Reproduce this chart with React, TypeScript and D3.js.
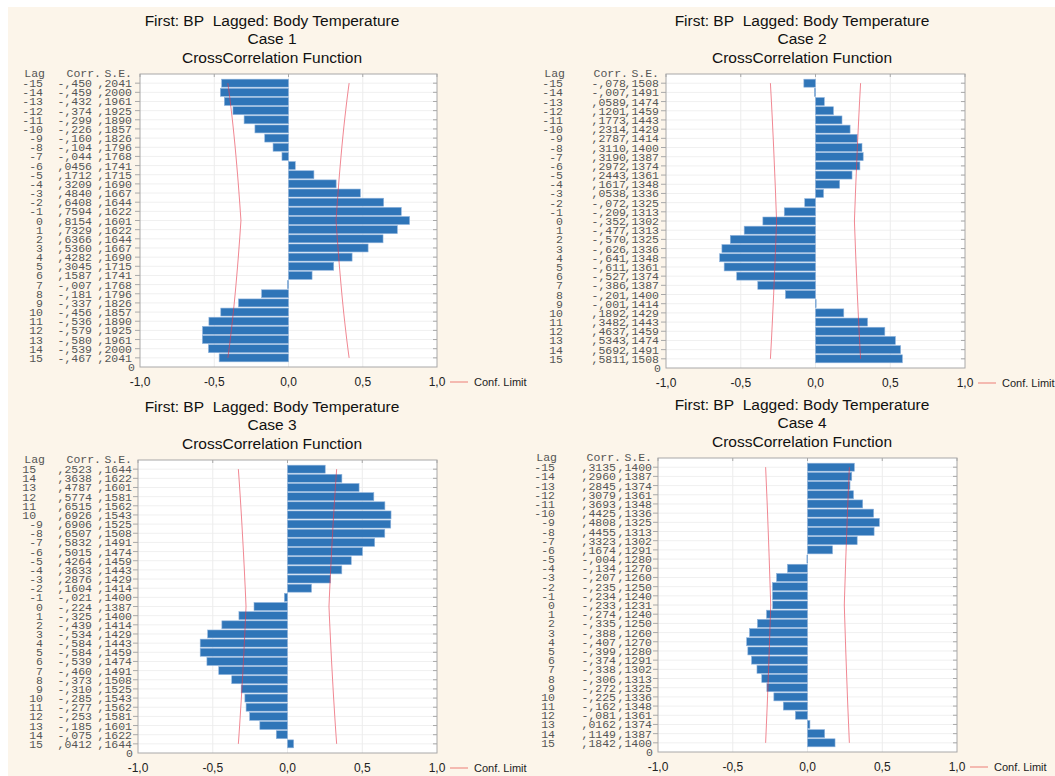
import * as d3 from "d3";

// lag labels as printed in each table
const lagLabels = ["-15","-14","-13","-12","-11","-10","-9","-8","-7","-6","-5","-4","-3","-2","-1","0","1","2","3","4","5","6","7","8","9","10","11","12","13","14","15"];
const lagLabelsCase3 = ["15\u00a0","14\u00a0","13\u00a0","12\u00a0","11\u00a0","10\u00a0","-9","-8","-7","-6","-5","-4","-3","-2","-1","0","1","2","3","4","5","6","7","8","9","10","11","12","13","14","15"];

const case1Corr = [-.450,-.459,-.432,-.374,-.299,-.226,-.160,-.104,-.044,.0456,.1712,.3209,.4840,.6408,.7594,.8154,.7329,.6366,.5360,.4282,.3045,.1587,-.007,-.181,-.337,-.456,-.536,-.579,-.580,-.539,-.467];
const case1SE = [.2041,.2000,.1961,.1925,.1890,.1857,.1826,.1796,.1768,.1741,.1715,.1690,.1667,.1644,.1622,.1601,.1622,.1644,.1667,.1690,.1715,.1741,.1768,.1796,.1826,.1857,.1890,.1925,.1961,.2000,.2041];

const case2Corr = [-.078,-.007,.0589,.1201,.1773,.2314,.2787,.3110,.3190,.2972,.2443,.1617,.0538,-.072,-.209,-.352,-.477,-.570,-.626,-.641,-.611,-.527,-.386,-.201,-.001,.1892,.3482,.4637,.5343,.5692,.5811];
const case2SE = [.1508,.1491,.1474,.1459,.1443,.1429,.1414,.1400,.1387,.1374,.1361,.1348,.1336,.1325,.1313,.1302,.1313,.1325,.1336,.1348,.1361,.1374,.1387,.1400,.1414,.1429,.1443,.1459,.1474,.1491,.1508];

const case3Corr = [.2523,.3638,.4787,.5774,.6515,.6926,.6906,.6507,.5832,.5015,.4264,.3633,.2876,.1604,-.021,-.224,-.325,-.439,-.534,-.584,-.584,-.539,-.460,-.373,-.310,-.285,-.277,-.253,-.185,-.075,.0412];
const case3SE = [.1644,.1622,.1601,.1581,.1562,.1543,.1525,.1508,.1491,.1474,.1459,.1443,.1429,.1414,.1400,.1387,.1400,.1414,.1429,.1443,.1459,.1474,.1491,.1508,.1525,.1543,.1562,.1581,.1601,.1622,.1644];

const case4Corr = [.3135,.2960,.2845,.3079,.3693,.4425,.4808,.4455,.3323,.1674,-.004,-.134,-.207,-.235,-.234,-.233,-.274,-.335,-.388,-.407,-.399,-.374,-.338,-.306,-.272,-.225,-.162,-.081,.0162,.1149,.1842];
const case4SE = [.1400,.1387,.1374,.1361,.1348,.1336,.1325,.1313,.1302,.1291,.1280,.1270,.1260,.1250,.1240,.1231,.1240,.1250,.1260,.1270,.1280,.1291,.1302,.1313,.1325,.1336,.1348,.1361,.1374,.1387,.1400];

const xTicks = [-1, -0.5, 0, 0.5, 1];
const titleLine1 = "First: BP\u00a0\u00a0Lagged: Body Temperature";
const titleLine3 = "CrossCorrelation Function";

const SANS = "'Liberation Sans', Arial, sans-serif";
const MONO = "'Liberation Mono', 'Courier New', monospace";
const BLUE = "#2f75b8";
const CONF = "#e8374a";

const fmtCorr = (v: number) =>
  v < 0
    ? "-," + String(Math.round(-v * 1000)).padStart(3, "0")
    : "," + String(Math.round(v * 10000)).padStart(4, "0");
const fmtSE = (v: number) => "," + String(Math.round(v * 10000)).padStart(4, "0");
const fmtTick = (v: number) => d3.format(".1f")(v).replace(".", ",").replace("−", "-");

interface PanelProps {
  caseNo: number;
  lags: string[];
  corr: number[];
  se: number[];
  left: number;
  right: number;
  top: number;
  bottom: number;
  titleX: number;
  titleY: number;
  lagX: number;
  corrX: number;
  seX: number;
}

function Panel(p: PanelProps) {
  const x = d3.scaleLinear().domain([-1, 1]).range([p.left, p.right]);
  const y = d3.scaleLinear().domain([0, 32]).range([p.bottom, p.top]);
  const n = p.corr.length;
  const rowVal = (i: number) => n - i;
  const barH = (p.bottom - p.top) / 32 - 1.2;

  const upper = d3
    .line<number>()
    .x((d, i) => x(2 * p.se[i]))
    .y((d, i) => y(rowVal(i)));
  const lower = d3
    .line<number>()
    .x((d, i) => x(-2 * p.se[i]))
    .y((d, i) => y(rowVal(i)));

  const labelY = p.bottom + 19;

  return (
    <g>
      {/* titles */}
      <g fontFamily={SANS} fontSize={15.5} fill="#111" textAnchor="middle">
        <text x={p.titleX} y={p.titleY}>{titleLine1}</text>
        <text x={p.titleX} y={p.titleY + 18}>{`Case ${p.caseNo}`}</text>
        <text x={p.titleX} y={p.titleY + 37}>{titleLine3}</text>
      </g>

      {/* plot area */}
      <rect x={p.left} y={p.top} width={p.right - p.left} height={p.bottom - p.top} fill="#fff" />
      {d3.range(1, n + 1).map((r) => (
        <line key={"h" + r} x1={p.left} x2={p.right} y1={y(r)} y2={y(r)} stroke="#f0f0f0" />
      ))}
      {xTicks.slice(1, -1).map((t) => (
        <line key={"v" + t} x1={x(t)} x2={x(t)} y1={p.top} y2={p.bottom} stroke="#ececec" />
      ))}

      {/* bars */}
      {p.corr.map((v, i) => (
        <rect
          key={"b" + i}
          x={Math.min(x(0), x(v))}
          y={y(rowVal(i)) - barH / 2}
          width={Math.max(0.8, Math.abs(x(v) - x(0)))}
          height={barH}
          fill={BLUE}
          stroke="#8fb3dc"
          strokeWidth={0.6}
        />
      ))}

      {/* confidence limits */}
      <path d={upper(p.corr) || ""} fill="none" stroke={CONF} strokeOpacity={0.6} strokeWidth={1} />
      <path d={lower(p.corr) || ""} fill="none" stroke={CONF} strokeOpacity={0.6} strokeWidth={1} />

      {/* frame and ticks */}
      <rect x={p.left} y={p.top} width={p.right - p.left} height={p.bottom - p.top} fill="none" stroke="#a8a8a8" />
      {d3.range(1, n + 1).map((r) => (
        <g key={"t" + r}>
          <line x1={p.left - 5} x2={p.left} y1={y(r)} y2={y(r)} stroke="#a8a8a8" />
          <line x1={p.right - 4} x2={p.right} y1={y(r)} y2={y(r)} stroke="#a8a8a8" />
        </g>
      ))}
      {xTicks.map((t) => (
        <line key={"xt" + t} x1={x(t)} x2={x(t)} y1={p.top} y2={p.top + 3} stroke="#a8a8a8" />
      ))}

      {/* x tick labels */}
      <g fontFamily={SANS} fontSize={12} fill="#222" textAnchor="middle">
        {xTicks.map((t) => (
          <text key={"xl" + t} x={x(t)} y={labelY}>{fmtTick(t)}</text>
        ))}
      </g>

      {/* legend */}
      <line x1={p.right + 13} x2={p.right + 31} y1={labelY - 4} y2={labelY - 4} stroke="#f4b9b0" strokeWidth={2} />
      <text x={p.right + 37} y={labelY} fontFamily={SANS} fontSize={11} fill="#222">Conf. Limit</text>

      {/* table */}
      <g fontFamily={MONO} fontSize={11.5} fill="#555">
        <text x={p.lagX + 2} y={p.top + 3} textAnchor="end">Lag</text>
        <text x={p.seX - 31} y={p.top + 3} textAnchor="end">Corr.</text>
        <text x={p.seX} y={p.top + 3} textAnchor="end">S.E.</text>
        {p.corr.map((v, i) => (
          <g key={"r" + i}>
            <text x={p.lagX} y={y(rowVal(i)) + 4} textAnchor="end">{p.lags[i]}</text>
            <text x={p.corrX} y={y(rowVal(i)) + 4} textAnchor="end">{fmtCorr(v)}</text>
            <text x={p.seX} y={y(rowVal(i)) + 4} textAnchor="end">{fmtSE(p.se[i])}</text>
          </g>
        ))}
        <text x={p.left - 5} y={p.bottom + 4} textAnchor="end">0</text>
      </g>
    </g>
  );
}

export default function App() {
  return (
    <svg
      width={1055}
      height={776}
      style={{ position: "absolute", left: 0, top: 0, display: "block" }}
    >
      <rect x={0} y={0} width={1055} height={776} fill="#fff" />
      <rect x={8} y={7} width={1047} height={769} fill="#fcf5ea" />
      <Panel caseNo={1} lags={lagLabels} corr={case1Corr} se={case1SE}
        left={140} right={437} top={74} bottom={367} titleX={272} titleY={26}
        lagX={43} corrX={92} seX={132} />
      <Panel caseNo={2} lags={lagLabels} corr={case2Corr} se={case2SE}
        left={666} right={965} top={74} bottom={368} titleX={802} titleY={26}
        lagX={563} corrX={626} seX={659} />
      <Panel caseNo={3} lags={lagLabelsCase3} corr={case3Corr} se={case3SE}
        left={138} right={437} top={460} bottom={753} titleX={272} titleY={412}
        lagX={43} corrX={92} seX={132} />
      <Panel caseNo={4} lags={lagLabels} corr={case4Corr} se={case4SE}
        left={658} right={957} top={458} bottom={752} titleX={802} titleY={410}
        lagX={555} corrX={616} seX={652} />
    </svg>
  );
}
